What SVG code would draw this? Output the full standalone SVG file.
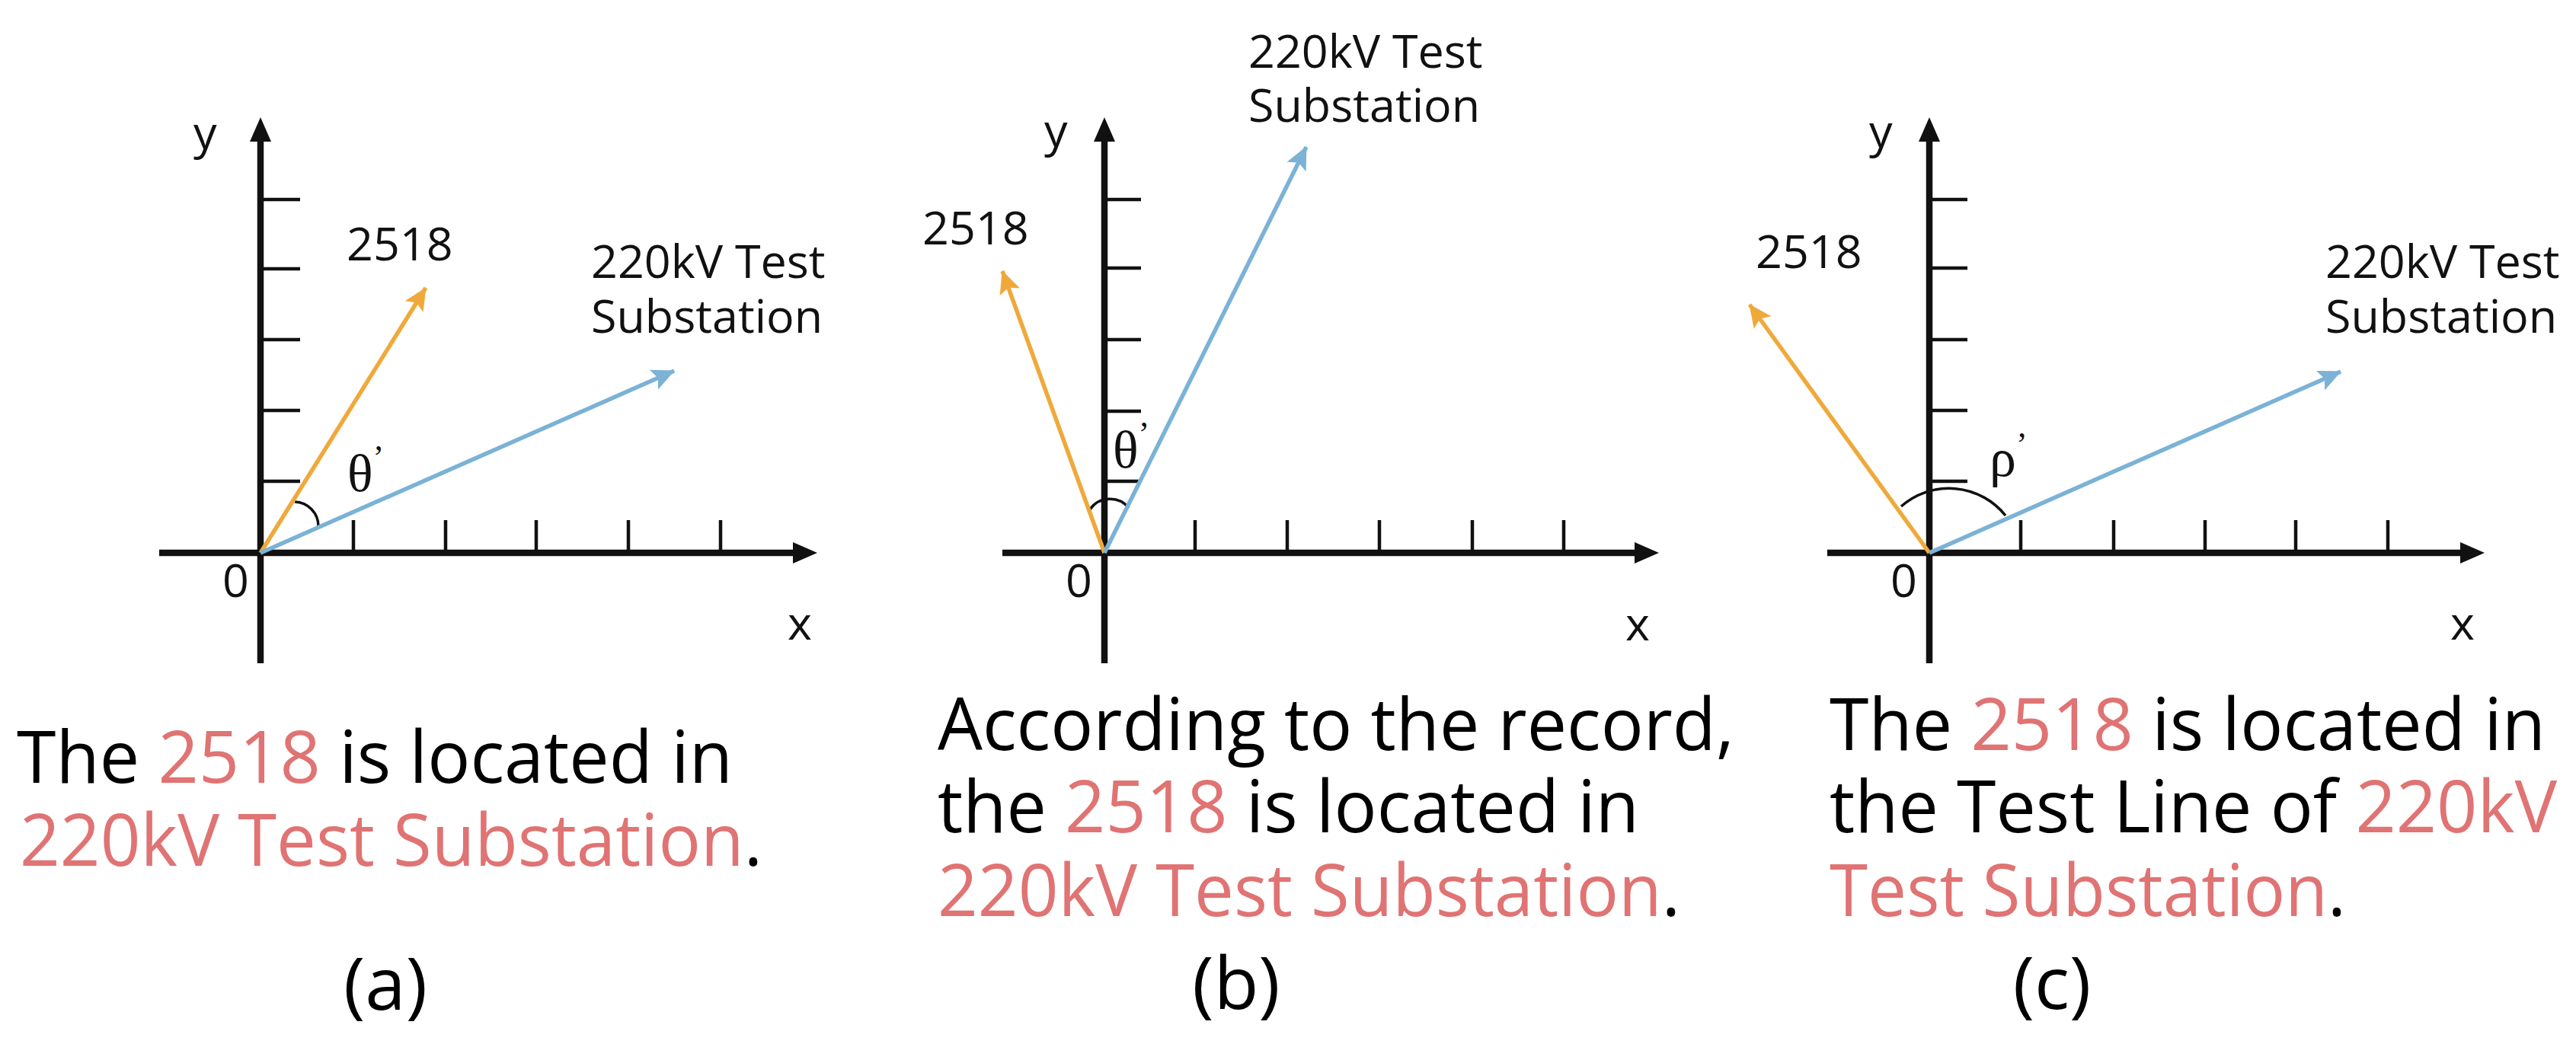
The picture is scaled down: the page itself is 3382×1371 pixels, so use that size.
<svg xmlns="http://www.w3.org/2000/svg" width="3382" height="1371" viewBox="0 0 3382 1371">
<style>
.axis{stroke:#111;stroke-width:8.5;fill:none}
.tick{stroke:#111;stroke-width:4.5;fill:none}
.ah{fill:#111}
.arc{stroke:#111;stroke-width:3.5;fill:none}
.vo{stroke:#EFA93B;stroke-width:5.5;fill:none;marker-end:url(#mo)}
.vb{stroke:#7BB2D6;stroke-width:5.5;fill:none;marker-end:url(#mb)}
.lbl{font-family:'Open Sans','Noto Sans',sans-serif;font-size:61px;fill:#111}
.gr{font-family:'Liberation Serif','DejaVu Serif',serif;font-size:70px;fill:#111}
.pr{font-size:44px}
.body{font-family:'Open Sans','Noto Sans',sans-serif;font-size:96px;fill:#000}
.red{fill:#E07373}
.cap{font-family:'Open Sans','Noto Sans',sans-serif;font-size:96px;fill:#000;text-anchor:middle}
</style>
<defs>
<marker id="mo" markerUnits="userSpaceOnUse" viewBox="0 0 30 30" refX="29" refY="15" markerWidth="30" markerHeight="30" orient="auto">
<path d="M0,1 L30,15 L0,29 L6,15 z" fill="#EFA93B"/>
</marker>
<marker id="mb" markerUnits="userSpaceOnUse" viewBox="0 0 30 30" refX="29" refY="15" markerWidth="30" markerHeight="30" orient="auto">
<path d="M0,1 L30,15 L0,29 L6,15 z" fill="#7BB2D6"/>
</marker>
</defs>
<rect width="3382" height="1371" fill="#fff"/>

<g id="panel-a">
<g id="axes-a">
<line class="axis" x1="342" y1="871" x2="342" y2="180"/>
<line class="axis" x1="209" y1="726" x2="1046" y2="726"/>
<path class="ah" d="M342,154 L356,186 L328,186 z"/>
<path class="ah" d="M1073,726 L1041,740 L1041,712 z"/>
<path class="tick" d="M342,262 H394 M342,353 H394 M342,446 H394 M342,539 H394 M342,632 H394 M464,683 V726 M585,683 V726 M704,683 V726 M825,683 V726 M946,683 V726"/>
<path class="arc" d="M387,659 A32,32 0 0,1 418,691"/>
</g>
<g id="labels-a">
<text class="lbl" x="254" y="196">y</text>
<text class="lbl" x="292" y="784">0</text>
<text class="lbl" x="1034" y="840">x</text>
<text class="lbl" x="455" y="342">2518</text>
<text class="lbl"><tspan x="776" y="365">220kV Test</tspan><tspan x="776" y="437">Substation</tspan></text>
<text class="gr" x="456" y="645">θ<tspan class="pr" dy="-30">’</tspan></text>
</g>
<g id="text-a">
<text class="body"><tspan x="22" y="1028" textLength="940" lengthAdjust="spacingAndGlyphs">The <tspan class="red">2518</tspan> is located in</tspan><tspan x="26" y="1137" textLength="975" lengthAdjust="spacingAndGlyphs"><tspan class="red">220kV Test Substation</tspan>.</tspan></text>
<text class="cap" x="506" y="1326">(a)</text>
</g>
</g>

<g id="panel-b">
<g id="axes-b">
<line class="axis" x1="1450" y1="871" x2="1450" y2="180"/>
<line class="axis" x1="1316" y1="726" x2="2151" y2="726"/>
<path class="ah" d="M1450,154 L1464,186 L1436,186 z"/>
<path class="ah" d="M2178,726 L2146,740 L2146,712 z"/>
<path class="tick" d="M1450,262 H1498 M1450,352 H1498 M1450,446 H1498 M1450,540 H1498 M1450,632 H1498 M1569,683 V726 M1690,683 V726 M1811,683 V726 M1933,683 V726 M2053,683 V726"/>
<path class="arc" d="M1431,669 A32,32 0 0,1 1482,667"/>
</g>
<g id="labels-b">
<text class="lbl" x="1371" y="193">y</text>
<text class="lbl" x="1399" y="784">0</text>
<text class="lbl" x="2134" y="841">x</text>
<text class="lbl" x="1211" y="321">2518</text>
<text class="lbl"><tspan x="1639" y="89">220kV Test</tspan><tspan x="1639" y="160">Substation</tspan></text>
<text class="gr" x="1461" y="614">θ<tspan class="pr" dy="-30">’</tspan></text>
</g>
<g id="text-b">
<text class="body"><tspan x="1231" y="985" textLength="1046" lengthAdjust="spacingAndGlyphs">According to the record,</tspan><tspan x="1231" y="1093" textLength="921" lengthAdjust="spacingAndGlyphs">the <tspan class="red">2518</tspan> is located in</tspan><tspan x="1231" y="1203" textLength="975" lengthAdjust="spacingAndGlyphs"><tspan class="red">220kV Test Substation</tspan>.</tspan></text>
<text class="cap" x="1623" y="1325">(b)</text>
</g>
</g>

<g id="panel-c">
<g id="axes-c">
<line class="axis" x1="2533" y1="871" x2="2533" y2="180"/>
<line class="axis" x1="2399" y1="726" x2="3235" y2="726"/>
<path class="ah" d="M2533,154 L2547,186 L2519,186 z"/>
<path class="ah" d="M3262,726 L3230,740 L3230,712 z"/>
<path class="tick" d="M2533,262 H2583 M2533,352 H2583 M2533,446 H2583 M2533,539 H2583 M2533,632 H2583 M2653,683 V726 M2775,683 V726 M2895,683 V726 M3014,683 V726 M3135,683 V726"/>
<path class="arc" d="M2496,665 A95,95 0 0,1 2633,677"/>
</g>
<g id="labels-c">
<text class="lbl" x="2454" y="194">y</text>
<text class="lbl" x="2482" y="784">0</text>
<text class="lbl" x="3217" y="840">x</text>
<text class="lbl" x="2305" y="352">2518</text>
<text class="lbl"><tspan x="3053" y="365">220kV Test</tspan><tspan x="3053" y="437">Substation</tspan></text>
<text class="gr" x="2612" y="625">ρ<tspan class="pr" dy="-27">’</tspan></text>
</g>
<g id="text-c">
<text class="body"><tspan x="2402" y="985" textLength="940" lengthAdjust="spacingAndGlyphs">The <tspan class="red">2518</tspan> is located in</tspan><tspan x="2402" y="1093" textLength="955" lengthAdjust="spacingAndGlyphs">the Test Line of <tspan class="red">220kV</tspan></tspan><tspan x="2402" y="1203" textLength="678" lengthAdjust="spacingAndGlyphs"><tspan class="red">Test Substation</tspan>.</tspan></text>
<text class="cap" x="2694" y="1325">(c)</text>
</g>
</g>

<g id="connectors">
<line id="a-2518" class="vo" x1="342" y1="726" x2="559" y2="378"/>
<line id="a-sub" class="vb" x1="342" y1="726" x2="885" y2="487"/>
<line id="b-2518" class="vo" x1="1450" y1="726" x2="1316" y2="356"/>
<line id="b-sub" class="vb" x1="1450" y1="726" x2="1715" y2="193"/>
<line id="c-2518" class="vo" x1="2533" y1="726" x2="2297" y2="400"/>
<line id="c-sub" class="vb" x1="2533" y1="726" x2="3073" y2="488"/>
</g>
</svg>
